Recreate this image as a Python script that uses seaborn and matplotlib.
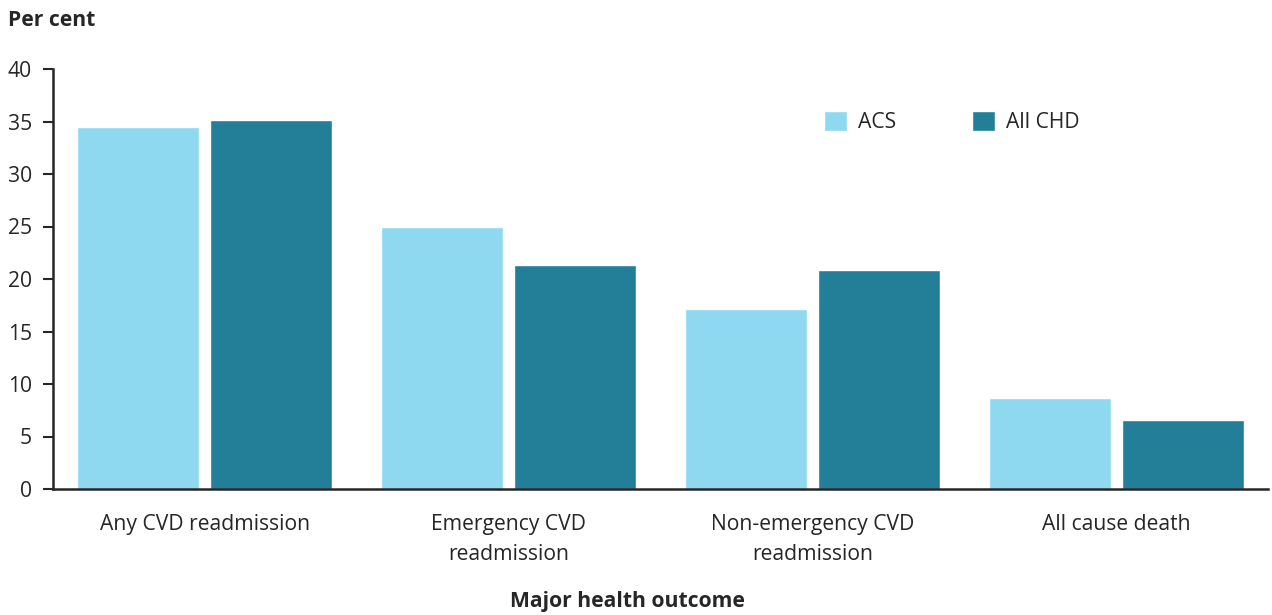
import pandas as pd
import seaborn as sns
import matplotlib.pyplot as plt

# data
outcomes = ["Any CVD readmission", "Emergency CVD\nreadmission",
            "Non-emergency CVD\nreadmission", "All cause death"]
acs = [34.5, 25.0, 17.1, 8.7]
all_chd = [35.1, 21.3, 20.9, 6.6]
groups = ["ACS", "All CHD"]
colours = ["#8ed8f0", "#237f97"]

df = pd.DataFrame({
    "outcome": outcomes * 2,
    "group": [groups[0]] * 4 + [groups[1]] * 4,
    "value": acs + all_chd,
})

sns.set_style("white")
plt.rcParams["font.family"] = ["Open Sans", "DejaVu Sans"]
text_col = "#262626"
fs = 15.2

fig = plt.figure(figsize=(12.72, 6.15), dpi=100)
ax = fig.add_axes([53 / 1272, 1 - 489 / 615, 1215 / 1272, 420 / 615])

sns.barplot(data=df, x="outcome", y="value", hue="group", palette=colours,
            width=0.876, gap=0.083, saturation=1, ax=ax)

ax.set_ylim(0, 40)
ax.set_xlim(-0.5, 3.5)
ax.set_yticks(range(0, 41, 5))
ax.set_xlabel("")
ax.set_ylabel("")
sns.despine(ax=ax)
for s in ["left", "bottom"]:
    ax.spines[s].set_color(text_col)
    ax.spines[s].set_linewidth(1.8)
ax.tick_params(axis="y", length=7, width=1.5, color=text_col,
               labelsize=fs, labelcolor=text_col, pad=8, left=True)
ax.tick_params(axis="x", length=0, labelsize=fs, labelcolor=text_col, pad=18)
for lab in ax.get_xticklabels():
    lab.set_linespacing(1.55)

ax.legend(loc="center left", bbox_to_anchor=(0.619, 0.874), ncol=2,
          frameon=False, fontsize=fs, handlelength=1.1, handleheight=1.1,
          columnspacing=3.6, handletextpad=0.5, labelcolor=text_col)

fig.text(8 / 1272, 1 - 20 / 615, "Per cent", fontsize=fs, fontweight="bold",
         color=text_col, va="center", ha="left")
fig.text(627 / 1272, 1 - 601 / 615, "Major health outcome", fontsize=fs,
         fontweight="bold", color=text_col, va="center", ha="center")

fig.savefig("out.png", dpi=100)
